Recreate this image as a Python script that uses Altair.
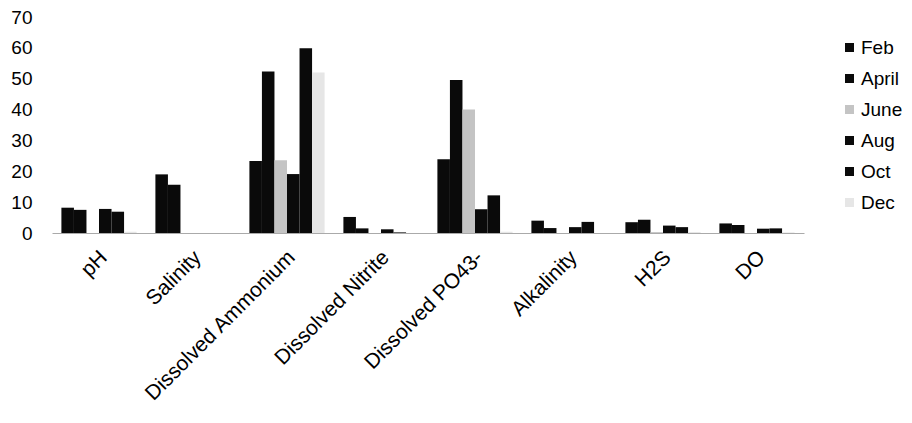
import altair as alt
import pandas as pd

categories = ["pH", "Salinity", "Dissolved Ammonium", "Dissolved Nitrite",
              "Dissolved PO43-", "Alkalinity", "H2S", "DO"]
months = ["Feb", "April", "June", "Aug", "Oct", "Dec"]

feb = [8.2, 19.0, 23.3, 5.2, 23.9, 4.0, 3.5, 3.1]
april = [7.5, 15.6, 52.3, 1.5, 49.6, 1.6, 4.3, 2.6]
june = [0.0, 0.0, 23.6, 0.0, 40.0, 0.0, 0.3, 0.0]
aug = [7.8, 0.0, 19.1, 1.2, 7.7, 1.9, 2.4, 1.4]
oct_ = [6.9, 0.0, 59.9, 0.2, 12.2, 3.6, 1.9, 1.5]
dec = [0.4, 0.0, 52.0, 0.0, 0.4, 0.0, 0.3, 0.2]

y_ticks = [0, 10, 20, 30, 40, 50, 60, 70]
colors = ["#0a0a0a", "#0a0a0a", "#c4c4c4", "#0a0a0a", "#0a0a0a", "#e6e6e6"]

rows = []
for m, vals in zip(months, [feb, april, june, aug, oct_, dec]):
    for c, v in zip(categories, vals):
        rows.append({"category": c, "month": m, "value": v})
df = pd.DataFrame(rows)

FONT = "Liberation Sans"

chart = alt.Chart(df).mark_bar().encode(
    x=alt.X("category:N", sort=categories,
            scale=alt.Scale(paddingInner=0.2, paddingOuter=0.1),
            axis=alt.Axis(title=None, labelAngle=-45, labelAlign="right",
                          labelBaseline="middle", labelFontSize=21,
                          labelFont=FONT, labelColor="#000", labelPadding=21,
                          labelOffset=5, labelLimit=400, labelOverlap=False,
                          ticks=False, domainColor="#aaaaaa", domainWidth=1)),
    xOffset=alt.XOffset("month:N", sort=months,
                        scale=alt.Scale(paddingInner=0, paddingOuter=0)),
    y=alt.Y("value:Q", scale=alt.Scale(domain=[0, 70]),
            axis=alt.Axis(title=None, values=y_ticks, grid=False, domain=False,
                          ticks=False, labelFontSize=19, labelFont=FONT,
                          labelColor="#000", labelPadding=20)),
    color=alt.Color("month:N", sort=months,
                    scale=alt.Scale(domain=months, range=colors),
                    legend=alt.Legend(title=None, orient="none", legendX=788,
                                      legendY=21, symbolType="square",
                                      symbolSize=81, symbolStrokeWidth=0,
                                      labelFontSize=19, labelFont=FONT,
                                      labelColor="#000", rowPadding=11,
                                      padding=0, labelOffset=2)),
).properties(
    width=752, height=216,
    padding={"left": 52, "top": 17, "right": 108, "bottom": 190},
    autosize=alt.AutoSizeParams(type="none"),
).configure_view(stroke=None)

chart.save("out.html", embed_options={"renderer": "svg", "actions": False})
